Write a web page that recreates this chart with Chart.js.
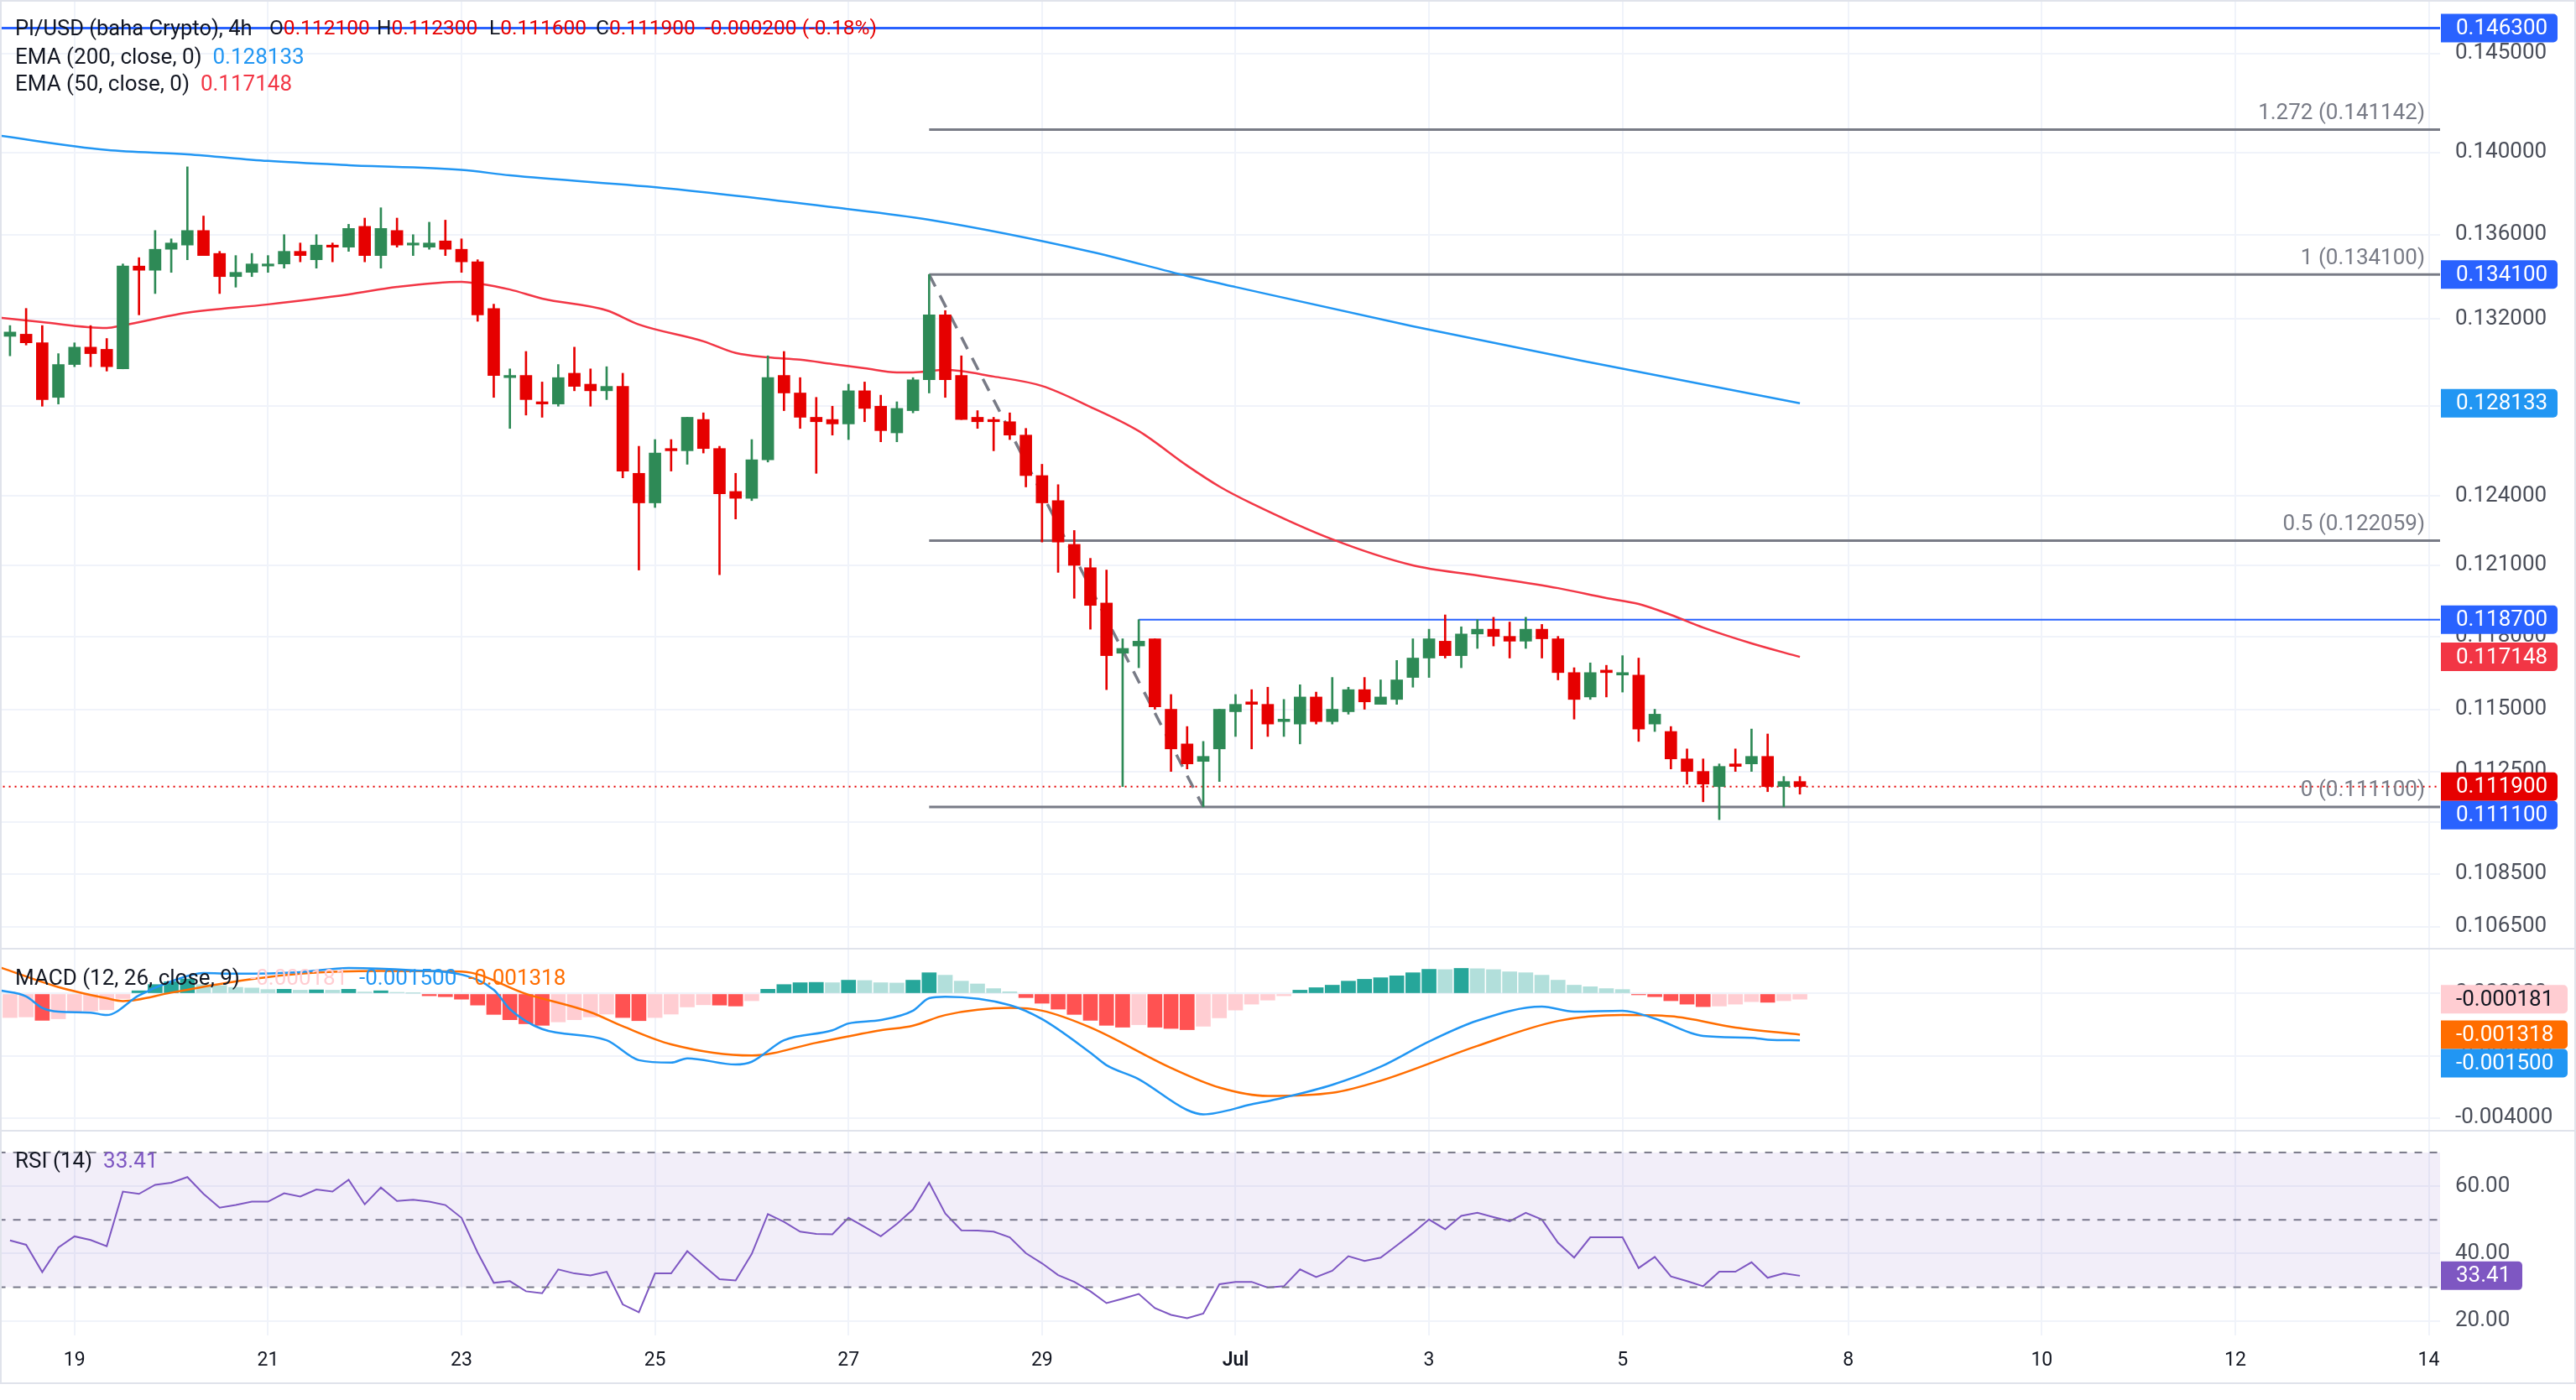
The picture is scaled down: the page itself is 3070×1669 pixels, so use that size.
<!DOCTYPE html>
<html>
<head>
<meta charset="utf-8">
<title>PI/USD 4h</title>
<script src="https://cdn.jsdelivr.net/npm/chart.js@4.4.1/dist/chart.umd.min.js"></script>
<style>
  html, body { margin: 0; padding: 0; background: #ffffff; }
  body { position: relative; width: 3070px; height: 1669px; overflow: hidden; font-family: Roboto, "Noto Sans", sans-serif; }
  canvas { position: absolute; left: 0; }
  .sep { position: absolute; background: #e0e3eb; }
  .lg { position: absolute; font-size: 26px; line-height: 28px; color: #131722; white-space: nowrap; }
  .title { font-size: 25.5px; }
  .ohlc { font-size: 24.5px; }
  .dn { color: #e60000; }
</style>
</head>
<body>
<canvas id="pricePane" width="3070" height="1130" style="top:0"></canvas>
<canvas id="macdPane" width="3070" height="215" style="top:1132px"></canvas>
<canvas id="rsiPane" width="3070" height="299" style="top:1349px"></canvas>

<div class="sep" style="left:0;top:0;width:3070px;height:2px"></div>
<div class="sep" style="left:0;top:0;width:2px;height:1650px"></div>
<div class="sep" style="left:3068px;top:0;width:2px;height:1650px"></div>
<div class="sep" style="left:0;top:1130px;width:3070px;height:2px"></div>
<div class="sep" style="left:0;top:1347px;width:3070px;height:2px"></div>
<div class="sep" style="left:0;top:1648px;width:3070px;height:2px"></div>

<!-- legends -->
<div class="lg title" style="left:18px;top:19px">PI/USD (baha Crypto), 4h</div>
<div class="lg ohlc" style="left:321px;top:19px">O<span class="dn">0.112100</span></div>
<div class="lg ohlc" style="left:449px;top:19px">H<span class="dn">0.112300</span></div>
<div class="lg ohlc" style="left:583px;top:19px">L<span class="dn">0.111600</span></div>
<div class="lg ohlc" style="left:710px;top:19px">C<span class="dn">0.111900</span></div>
<div class="lg ohlc dn" style="left:840px;top:19px">-0.000200 (-0.18%)</div>
<div class="lg" style="left:18px;top:53px">EMA (200, close, 0) <span style="color:#2196f3">&nbsp;0.128133</span></div>
<div class="lg" style="left:18px;top:85px">EMA (50, close, 0) <span style="color:#f23645">&nbsp;0.117148</span></div>
<div class="lg" style="left:18px;top:1151px">MACD (12, 26, close, 9)</div>
<div class="lg" style="left:298px;top:1151px;color:#ffcdd2">-0.000181</div>
<div class="lg" style="left:428px;top:1151px;color:#2196f3">-0.001500</div>
<div class="lg" style="left:558px;top:1151px;color:#ff6d00">-0.001318</div>
<div class="lg" style="left:18px;top:1369px">RSI (14) <span style="color:#7e57c2">&nbsp;33.41</span></div>

<script>
// ====================== DATA ======================
// 4h candles, bar index 0..111
const candleOpen = [
  0.1312,0.1313,0.1309,0.1284,0.1299,0.1307,0.1306,0.1297,0.1345,0.1343,
  0.1353,0.1355,0.1362,0.1351,0.1340,0.1342,0.1345,0.1346,0.1352,0.1348,
  0.1355,0.1354,0.1364,0.1350,0.1362,0.1355,0.1354,0.1357,0.1353,0.1347,
  0.1325,0.1293,0.1294,0.1282,0.1281,0.1295,0.1290,0.1287,0.1289,0.1250,
  0.1237,0.1261,0.1260,0.1274,0.1261,0.1242,0.1239,0.1256,0.1294,0.1286,
  0.1275,0.1274,0.1272,0.1287,0.1280,0.1268,0.1278,0.1292,0.1322,0.1294,
  0.1275,0.1274,0.1273,0.1267,0.1249,0.1238,0.1219,0.1209,0.1194,0.1173,
  0.1176,0.1179,0.1150,0.1136,0.1129,0.1134,0.1149,0.1153,0.1152,0.1145,
  0.1144,0.1155,0.1145,0.1149,0.1158,0.1152,0.1154,0.1163,0.1171,0.1178,
  0.1172,0.1181,0.1183,0.1180,0.1178,0.1183,0.1179,0.1165,0.1155,0.1166,
  0.1164,0.1164,0.1144,0.1141,0.1130,0.1125,0.1119,0.1128,0.1128,0.1131,
  0.1119,0.1121
];
const candleHigh = [
  0.1317,0.1325,0.1317,0.1304,0.1309,0.1317,0.1311,0.1346,0.1349,0.1362,
  0.1358,0.1393,0.1369,0.1352,0.1350,0.1351,0.1350,0.1360,0.1356,0.1360,
  0.1356,0.1365,0.1368,0.1373,0.1368,0.1360,0.1366,0.1367,0.1358,0.1348,
  0.1327,0.1297,0.1305,0.1291,0.1299,0.1307,0.1297,0.1298,0.1295,0.1262,
  0.1265,0.1265,0.1275,0.1277,0.1262,0.1250,0.1265,0.1303,0.1305,0.1293,
  0.1284,0.1280,0.1290,0.1291,0.1285,0.1282,0.1293,0.1341,0.1324,0.1303,
  0.1278,0.1275,0.1277,0.1270,0.1254,0.1245,0.1225,0.1213,0.1208,0.1179,
  0.1187,0.1179,0.1156,0.1143,0.1137,0.1150,0.1156,0.1158,0.1159,0.1154,
  0.1160,0.1157,0.1163,0.1159,0.1163,0.1162,0.1170,0.1179,0.1183,0.1189,
  0.1184,0.1187,0.1188,0.1186,0.1188,0.1185,0.1180,0.1167,0.1169,0.1168,
  0.1172,0.1171,0.1150,0.1143,0.1134,0.1130,0.1128,0.1134,0.1142,0.1140,
  0.1123,0.1123
];
const candleLow = [
  0.1303,0.1308,0.1280,0.1281,0.1298,0.1298,0.1296,0.1297,0.1322,0.1332,
  0.1342,0.1348,0.1350,0.1332,0.1335,0.1340,0.1342,0.1344,0.1347,0.1344,
  0.1347,0.1352,0.1347,0.1344,0.1354,0.1350,0.1353,0.1350,0.1342,0.1319,
  0.1284,0.1270,0.1276,0.1275,0.1280,0.1287,0.1280,0.1283,0.1248,0.1208,
  0.1235,0.1251,0.1254,0.1259,0.1206,0.1230,0.1238,0.1255,0.1278,0.1270,
  0.1250,0.1267,0.1265,0.1273,0.1264,0.1264,0.1277,0.1286,0.1284,0.1274,
  0.1270,0.1260,0.1265,0.1244,0.1220,0.1207,0.1196,0.1183,0.1158,0.1119,
  0.1167,0.1150,0.1125,0.1126,0.1111,0.1121,0.1139,0.1134,0.1139,0.1139,
  0.1136,0.1144,0.1144,0.1148,0.1150,0.1152,0.1152,0.1159,0.1163,0.1171,
  0.1167,0.1175,0.1176,0.1171,0.1175,0.1171,0.1162,0.1146,0.1154,0.1155,
  0.1157,0.1137,0.1141,0.1126,0.1120,0.1113,0.1106,0.1125,0.1125,0.1117,
  0.1111,0.1116
];
const candleClose = [
  0.1314,0.1309,0.1283,0.1299,0.1307,0.1304,0.1298,0.1345,0.1343,0.1353,
  0.1356,0.1362,0.1350,0.1340,0.1342,0.1346,0.1346,0.1352,0.1350,0.1355,
  0.1354,0.1363,0.1350,0.1363,0.1355,0.1356,0.1356,0.1353,0.1347,0.1322,
  0.1294,0.1294,0.1283,0.1281,0.1293,0.1289,0.1287,0.1289,0.1251,0.1237,
  0.1259,0.1260,0.1275,0.1261,0.1241,0.1239,0.1256,0.1293,0.1286,0.1275,
  0.1273,0.1272,0.1287,0.1279,0.1269,0.1279,0.1292,0.1322,0.1292,0.1274,
  0.1273,0.1273,0.1267,0.1249,0.1237,0.1220,0.1210,0.1193,0.1172,0.1175,
  0.1178,0.1151,0.1134,0.1128,0.1131,0.1150,0.1152,0.1152,0.1144,0.1146,
  0.1155,0.1145,0.1150,0.1158,0.1153,0.1155,0.1162,0.1171,0.1179,0.1172,
  0.1181,0.1183,0.1180,0.1178,0.1183,0.1179,0.1165,0.1154,0.1165,0.1165,
  0.1165,0.1142,0.1148,0.1130,0.1125,0.1120,0.1127,0.1127,0.1131,0.1119,
  0.1121,0.1119
];

// EMA lines, read at these bar indexes
const ema200Idx = [-1, 6, 11, 16, 21, 28, 31, 41, 51, 57, 67, 73, 76, 87, 98, 111];
const ema200Val = [0.14088, 0.14013, 0.13992, 0.13959, 0.13938, 0.13915, 0.13888, 0.13823,
                   0.13733, 0.13672, 0.13519, 0.13403, 0.13351, 0.13167, 0.13000, 0.128133];
const ema50Idx = [-1, 2, 6, 7, 11, 16, 21, 24, 28, 29, 31, 33, 37, 39, 43, 45, 47, 49, 51, 53,
                  55, 56, 58, 61, 64, 67, 70, 73, 75, 77, 82, 87, 91, 96, 99, 101, 103, 105, 108, 111];
const ema50Val = [0.13210, 0.13186, 0.13159, 0.13171, 0.13230, 0.13269, 0.13316, 0.13351, 0.13375, 0.13367,
                  0.13339, 0.13296, 0.13241, 0.13175, 0.13097, 0.13043, 0.13023, 0.13012, 0.12992, 0.12973,
                  0.12954, 0.12954, 0.12965, 0.12935, 0.12892, 0.12797, 0.12688, 0.12534, 0.12442, 0.12368,
                  0.12212, 0.12100, 0.12057, 0.12003, 0.11961, 0.11936, 0.11890, 0.11837, 0.11771, 0.117148];

// MACD (12, 26, 9)
const histVal = [
  -0.00077,-0.00075,-0.00086,-0.00081,-0.00057,-0.00056,-0.00052,-0.00016,0.00009,0.00029,
  0.00038,0.00047,0.00029,0.00026,0.00020,0.00018,0.00013,0.00014,0.00011,0.00012,
  0.00011,0.00014,0.00005,0.00009,0.00004,0.00001,-0.00007,-0.00010,-0.00018,-0.00037,
  -0.00067,-0.00084,-0.00097,-0.00102,-0.00091,-0.00084,-0.00075,-0.00066,-0.00077,-0.00087,
  -0.00077,-0.00066,-0.00043,-0.00036,-0.00037,-0.00040,-0.00023,0.00014,0.00029,0.00035,
  0.00036,0.00035,0.00043,0.00042,0.00035,0.00034,0.00043,0.00067,0.00059,0.00040,
  0.00031,0.00016,0.00006,-0.00013,-0.00031,-0.00050,-0.00067,-0.00086,-0.00102,-0.00108,
  -0.00100,-0.00108,-0.00112,-0.00116,-0.00105,-0.00078,-0.00053,-0.00034,-0.00021,-0.00007,
  0.00011,0.00019,0.00027,0.00040,0.00046,0.00051,0.00057,0.00067,0.00078,0.00077,
  0.00081,0.00080,0.00077,0.00070,0.00067,0.00059,0.00043,0.00027,0.00022,0.00016,
  0.00013,-0.00004,-0.00010,-0.00023,-0.00034,-0.00042,-0.00040,-0.00034,-0.00026,-0.00028,
  -0.00023,-0.000181
];
const macdIdx = [-0.6, 1, 2, 3, 5, 6, 8, 10, 12, 14, 18, 21, 25, 28, 30, 31, 33, 37, 39, 41,
                 42, 45, 46, 48, 51, 52, 54, 56, 57, 58, 62, 64, 67, 68, 70, 73, 74, 77, 79, 82,
                 85, 88, 91, 95, 97, 100, 102, 105, 108, 109, 111];
const macdVal = [0.00010, -0.00009, -0.00046, -0.00058, -0.00061, -0.00069, -0.00006, 0.00039, 0.00066, 0.00064,
                 0.00069, 0.00082, 0.00075, 0.00061, 0.00012, -0.00050, -0.00114, -0.00150, -0.00214, -0.00222,
                 -0.00208, -0.00228, -0.00219, -0.00150, -0.00118, -0.00096, -0.00085, -0.00055, -0.00015, -0.00010,
                 -0.00037, -0.00082, -0.00190, -0.00230, -0.00275, -0.00374, -0.00388, -0.00356, -0.00334, -0.00293,
                 -0.00235, -0.00154, -0.00087, -0.00042, -0.00058, -0.00055, -0.00080, -0.00136, -0.00142, -0.00148,
                 -0.00150];
const signalIdx = [-0.6, 3, 6, 7, 10, 14, 18, 23, 28, 32, 36, 38, 41, 46, 50, 54, 56, 58, 62, 64,
                   67, 72, 75, 78, 82, 85, 91, 96, 100, 103, 107, 111];
const signalVal = [0.00084, 0.00021, -0.00015, -0.00024, 0.00003, 0.00039, 0.00064, 0.00073, 0.00071, -0.00001,
                   -0.00060, -0.00105, -0.00163, -0.00199, -0.00158, -0.00118, -0.00103, -0.00069, -0.00046, -0.00055,
                   -0.00109, -0.00239, -0.00302, -0.00329, -0.00319, -0.00280, -0.00168, -0.00088, -0.00069, -0.00073,
                   -0.00109, -0.001318];

// RSI (14)
const rsiVal = [
  43.9,42.6,34.5,41.8,45.1,44.0,42.2,58.4,57.7,60.4,
  61.0,62.7,57.7,53.6,54.4,55.4,55.4,57.9,56.9,59.0,
  58.4,61.9,54.6,59.6,55.6,56.0,55.4,54.4,50.6,40.3,
  31.3,31.8,28.8,28.2,35.3,34.1,33.5,34.6,24.9,22.6,
  34.1,34.1,40.7,36.5,32.4,32.0,39.9,51.7,49.4,46.5,
  45.8,45.7,50.6,47.9,45.1,48.8,53.1,61.0,51.9,46.9,
  46.8,46.5,44.8,40.1,37.1,33.6,31.6,28.8,25.3,26.6,
  28.0,23.8,21.8,20.8,22.2,30.9,31.6,31.6,29.9,30.3,
  35.3,33.0,34.9,39.2,37.8,38.8,42.4,46.1,50.1,47.2,
  51.2,52.1,50.8,49.6,52.1,50.1,43.2,38.8,44.8,44.8,
  44.8,35.7,39.0,33.2,31.8,30.3,34.6,34.6,37.4,32.8,
  34.1,33.41
];
const rsiLevels = [70, 50, 30];

// drawings
const fibRatios = [1.272, 1, 0.5, 0];
const fibPrices = [0.141142, 0.1341, 0.122059, 0.1111];
const fibStartBar = 57, fibEndBar = 74;
const topLevel = 0.1463;
const resistLevel = 0.1187, resistStartBar = 70;

// axes
const priceTicks = [0.145, 0.140, 0.136, 0.132, 0.128, 0.124, 0.121, 0.118, 0.115, 0.1125, 0.1105, 0.1085, 0.1065];
const macdTicks = [0, -0.002, -0.004];
const rsiTicks = [60, 40, 20];
const dayTickPos = [4, 16, 28, 40, 52, 64, 76, 88, 100, 114, 126, 138, 150];
const dayTickLabels = ['19', '21', '23', '25', '27', '29', 'Jul', '3', '5', '8', '10', '12', '14'];

// ====================== STYLE / LAYOUT ======================
const X_MIN = -0.62, X_MAX = 150.7;
const AXIS_W = 162;
const GRID = '#f0f3fa';
const UP = '#2e8a56', DOWN = '#e60000';
const AXIS_TEXT = '#4a4e59';
Chart.defaults.font.family = 'Roboto, "Noto Sans", sans-serif';

const bars = candleOpen.map((o, i) => i);
const lastClose = candleClose[candleClose.length - 1];
const pts = (idx, vals) => idx.map((x, k) => ({ x: x, y: vals[k] }));
const hLine = (v, from) => [{ x: from, y: v }, { x: X_MAX + 2, y: v }];

function xScale(showLabels) {
  return {
    type: 'linear', min: X_MIN, max: X_MAX, bounds: 'data', offset: false,
    afterBuildTicks: s => { s.ticks = dayTickPos.map(v => ({ value: v })); },
    afterFit: s => { s.height = showLabels ? 56 : 0; s.paddingLeft = 0; s.paddingRight = 0; },
    ticks: {
      display: showLabels, autoSkip: false, maxRotation: 0, padding: 16, color: '#131722',
      callback: (v, i) => dayTickLabels[i],
      font: c => ({ size: 23, weight: dayTickLabels[c.index] === 'Jul' ? '600' : '400' })
    },
    grid: { color: GRID, lineWidth: 2, drawTicks: false, offset: false },
    border: { display: false }
  };
}

function yScale(type, min, max, ticks, digits) {
  return {
    type: type, position: 'right', min: min, max: max, bounds: 'data', beginAtZero: false,
    afterBuildTicks: s => { s.ticks = ticks.map(v => ({ value: v })); },
    afterFit: s => { s.width = AXIS_W; s.paddingTop = 0; s.paddingBottom = 0; },
    ticks: { autoSkip: false, padding: 18, color: AXIS_TEXT, font: { size: 26 }, callback: v => Number(v).toFixed(digits) },
    grid: { color: GRID, lineWidth: 2, drawTicks: false },
    border: { display: false }
  };
}

// coloured value tags on the right axis
function drawTags(chart, tags, width, digits) {
  const ctx = chart.ctx, scale = chart.scales.y, left = chart.chartArea.right + 1;
  const items = tags.map(t => Object.assign({ py: scale.getPixelForValue(t.v) }, t)).sort((a, b) => a.py - b.py);
  let last = -1e9;
  ctx.save();
  ctx.font = '26px Roboto, "Noto Sans", sans-serif';
  ctx.textBaseline = 'middle';
  ctx.textAlign = 'left';
  items.forEach(t => {
    const py = Math.max(t.py, last + 34);
    last = py;
    ctx.fillStyle = t.bg;
    ctx.beginPath();
    if (ctx.roundRect) ctx.roundRect(left, py - 17, width, 34, [0, 5, 5, 0]);
    else ctx.rect(left, py - 17, width, 34);
    ctx.fill();
    ctx.fillStyle = t.fg || '#ffffff';
    ctx.fillText(t.v.toFixed(digits), left + 18, py + 1);
  });
  ctx.restore();
}

const baseOptions = {
  responsive: false, devicePixelRatio: 1, animation: false, events: [],
  layout: { padding: 0 },
  plugins: { legend: { display: false }, tooltip: { enabled: false } }
};

// ====================== PRICE PANE ======================
const priceOverlay = {
  id: 'priceOverlay',
  afterDatasetsDraw(chart) {
    const ctx = chart.ctx, y = chart.scales.y, area = chart.chartArea;
    ctx.save();
    ctx.font = '26px Roboto, "Noto Sans", sans-serif';
    ctx.fillStyle = '#787b86';
    ctx.textAlign = 'right';
    ctx.textBaseline = 'middle';
    fibRatios.forEach((r, k) => {
      ctx.fillText(r + ' (' + fibPrices[k].toFixed(6) + ')', area.right - 18, y.getPixelForValue(fibPrices[k]) - 19);
    });
    ctx.restore();
    drawTags(chart, [
      { v: topLevel, bg: '#2962ff' },
      { v: fibPrices[1], bg: '#2962ff' },
      { v: ema200Val[ema200Val.length - 1], bg: '#2196f3' },
      { v: resistLevel, bg: '#2962ff' },
      { v: ema50Val[ema50Val.length - 1], bg: '#f23645' },
      { v: lastClose, bg: DOWN },
      { v: fibPrices[3], bg: '#2962ff' }
    ], 139, 6);
  }
};

const candleColors = bars.map(i => candleClose[i] >= candleOpen[i] ? UP : DOWN);
const flatLine = { type: 'line', pointRadius: 0, fill: false, tension: 0 };

new Chart(document.getElementById('pricePane'), {
  type: 'bar',
  data: {
    datasets: [
      // candle bodies and wicks on top
      { type: 'bar', order: 0, grouped: false, barThickness: 14, minBarLength: 2,
        data: bars.map(i => ({ x: i, y: [Math.min(candleOpen[i], candleClose[i]), Math.max(candleOpen[i], candleClose[i])] })),
        backgroundColor: candleColors },
      { type: 'bar', order: 1, grouped: false, barThickness: 2,
        data: bars.map(i => ({ x: i, y: [candleLow[i], candleHigh[i]] })),
        backgroundColor: candleColors },
      // moving averages
      { type: 'line', order: 2, data: pts(ema200Idx, ema200Val), borderColor: '#2196f3', borderWidth: 2.5,
        pointRadius: 0, cubicInterpolationMode: 'monotone' },
      { type: 'line', order: 2, data: pts(ema50Idx, ema50Val), borderColor: '#f23645', borderWidth: 2.5,
        pointRadius: 0, cubicInterpolationMode: 'monotone' },
      // drawings
      Object.assign({ order: 3, data: hLine(lastClose, X_MIN - 2), borderColor: DOWN, borderWidth: 2, borderDash: [2, 5] }, flatLine),
      Object.assign({ order: 4, data: hLine(topLevel, X_MIN - 2), borderColor: '#2962ff', borderWidth: 3 }, flatLine),
      Object.assign({ order: 4, data: hLine(resistLevel, resistStartBar), borderColor: '#2962ff', borderWidth: 2 }, flatLine),
      Object.assign({ order: 4, data: [{ x: fibStartBar, y: fibPrices[1] }, { x: fibEndBar, y: fibPrices[3] }],
        borderColor: '#787b86', borderWidth: 3.5, borderDash: [16, 12] }, flatLine),
      ...fibPrices.map(p => Object.assign({ order: 5, data: hLine(p, fibStartBar), borderColor: '#787b86', borderWidth: 3 }, flatLine))
    ]
  },
  options: Object.assign({}, baseOptions, {
    scales: { x: xScale(false), y: yScale('logarithmic', 0.10570, 0.14776, priceTicks, 6) }
  }),
  plugins: [priceOverlay]
});

// ====================== MACD PANE ======================
const histColors = histVal.map((v, i) => {
  const prev = i > 0 ? histVal[i - 1] : v;
  if (v >= 0) return v > prev ? '#26a69a' : '#b2dfdb';
  return v < prev ? '#ff5252' : '#ffcdd2';
});

new Chart(document.getElementById('macdPane'), {
  type: 'bar',
  data: {
    datasets: [
      { type: 'line', order: 0, data: pts(macdIdx, macdVal), borderColor: '#2196f3', borderWidth: 2.5,
        pointRadius: 0, cubicInterpolationMode: 'monotone' },
      { type: 'line', order: 0, data: pts(signalIdx, signalVal), borderColor: '#ff6d00', borderWidth: 2.5,
        pointRadius: 0, cubicInterpolationMode: 'monotone' },
      { type: 'bar', order: 1, grouped: false, barThickness: 17,
        data: bars.map(i => ({ x: i, y: histVal[i] })), backgroundColor: histColors }
    ]
  },
  options: Object.assign({}, baseOptions, {
    scales: { x: xScale(false), y: yScale('linear', -0.00438, 0.001415, macdTicks, 6) }
  }),
  plugins: [{
    id: 'macdTags',
    afterDatasetsDraw(chart) {
      drawTags(chart, [
        { v: histVal[histVal.length - 1], bg: '#ffcdd2', fg: '#131722' },
        { v: signalVal[signalVal.length - 1], bg: '#ff6d00' },
        { v: macdVal[macdVal.length - 1], bg: '#2196f3' }
      ], 151, 6);
    }
  }]
});

// ====================== RSI PANE ======================
new Chart(document.getElementById('rsiPane'), {
  type: 'line',
  data: {
    datasets: [
      { data: hLine(rsiLevels[0], X_MIN - 2), borderColor: 'rgba(0,0,0,0)', pointRadius: 0, fill: false },
      { data: hLine(rsiLevels[2], X_MIN - 2), borderColor: 'rgba(0,0,0,0)', pointRadius: 0, fill: '-1',
        backgroundColor: 'rgba(126,87,194,0.1)' },
      ...rsiLevels.map(l => ({ data: hLine(l, X_MIN - 2), borderColor: '#787b86', borderWidth: 2,
        borderDash: [9, 9], pointRadius: 0, fill: false })),
      { data: bars.map(i => ({ x: i, y: rsiVal[i] })), borderColor: '#7e57c2', borderWidth: 2,
        pointRadius: 0, fill: false, tension: 0 }
    ]
  },
  options: Object.assign({}, baseOptions, {
    scales: { x: xScale(true), y: yScale('linear', 15.7, 76.2, rsiTicks, 2) }
  }),
  plugins: [{
    id: 'rsiTag',
    afterDatasetsDraw(chart) {
      drawTags(chart, [{ v: rsiVal[rsiVal.length - 1], bg: '#7e57c2' }], 97, 2);
    }
  }]
});
</script>
</body>
</html>
